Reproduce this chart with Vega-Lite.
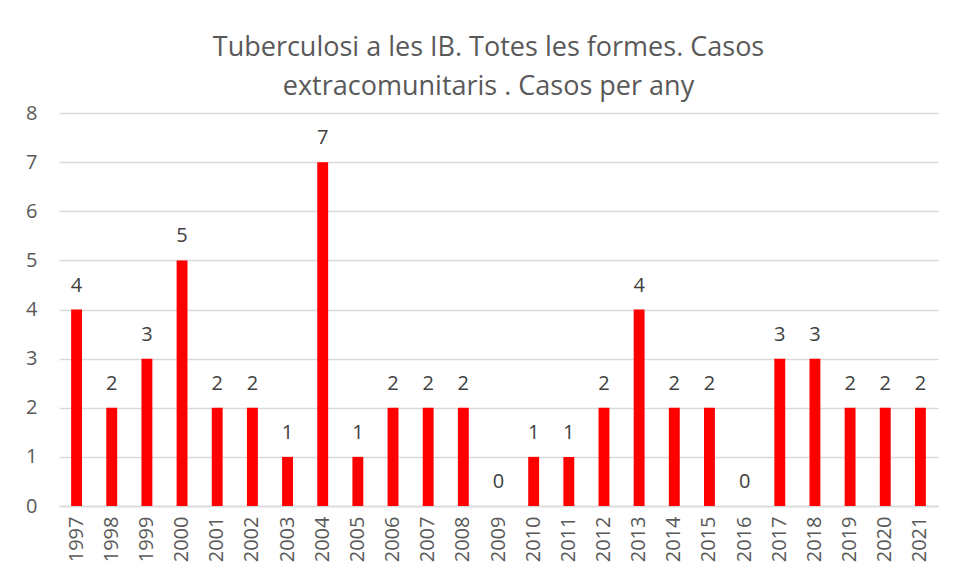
{
  "$schema": "https://vega.github.io/schema/vega-lite/v6.json",
  "autosize": "none",
  "width": 879,
  "height": 393,
  "padding": {"left": 59, "top": 113, "right": 17, "bottom": 70},
  "background": "white",
  "title": {
    "text": ["Tuberculosi a les IB. Totes les formes. Casos", "extracomunitaris . Casos per any"],
    "font": "Open Sans",
    "fontSize": 27,
    "fontWeight": "normal",
    "color": "#595959",
    "lineHeight": 39,
    "anchor": "middle",
    "dx": -10,
    "offset": 2
  },
  "data": {
    "values": [
      {"year": "1997", "cases": 4}, {"year": "1998", "cases": 2}, {"year": "1999", "cases": 3},
      {"year": "2000", "cases": 5}, {"year": "2001", "cases": 2}, {"year": "2002", "cases": 2},
      {"year": "2003", "cases": 1}, {"year": "2004", "cases": 7}, {"year": "2005", "cases": 1},
      {"year": "2006", "cases": 2}, {"year": "2007", "cases": 2}, {"year": "2008", "cases": 2},
      {"year": "2009", "cases": 0}, {"year": "2010", "cases": 1}, {"year": "2011", "cases": 1},
      {"year": "2012", "cases": 2}, {"year": "2013", "cases": 4}, {"year": "2014", "cases": 2},
      {"year": "2015", "cases": 2}, {"year": "2016", "cases": 0}, {"year": "2017", "cases": 3},
      {"year": "2018", "cases": 3}, {"year": "2019", "cases": 2}, {"year": "2020", "cases": 2},
      {"year": "2021", "cases": 2}
    ]
  },
  "encoding": {
    "x": {
      "field": "year", "type": "nominal", "sort": null,
      "scale": {"paddingInner": 0.69, "paddingOuter": 0.345},
      "axis": {
        "title": null, "labelAngle": -90, "labelFont": "Open Sans", "labelFontSize": 20,
        "labelColor": "#595959", "labelPadding": 10, "ticks": false,
        "domainColor": "#d9d9d9", "domainWidth": 1.5
      }
    },
    "y": {
      "field": "cases", "type": "quantitative",
      "scale": {"domain": [0, 8]},
      "axis": {
        "title": null, "values": [0,1,2,3,4,5,6,7,8], "labelFont": "Open Sans", "labelFontSize": 20,
        "labelColor": "#595959", "labelPadding": 22, "ticks": false, "domain": false,
        "gridColor": "#d9d9d9", "gridWidth": 1.5
      }
    }
  },
  "layer": [
    {"mark": {"type": "bar", "color": "#ff0000"}},
    {
      "mark": {"type": "text", "font": "Open Sans", "fontSize": 20, "color": "#404040", "baseline": "bottom", "dy": -14},
      "encoding": {"text": {"field": "cases", "type": "quantitative"}}
    }
  ],
  "config": {"view": {"stroke": null}}
}
